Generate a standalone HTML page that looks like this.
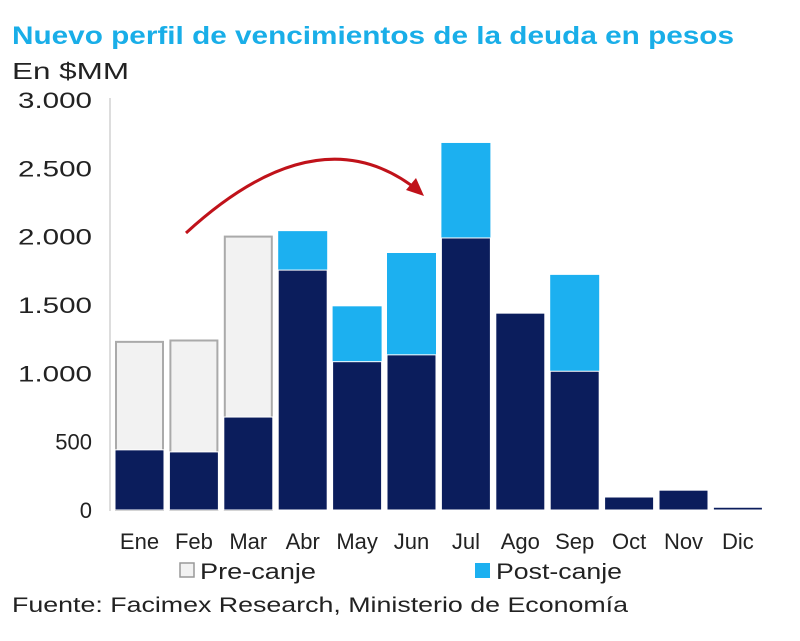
<!DOCTYPE html>
<html><head><meta charset="utf-8"><style>
body{margin:0;background:#fff;width:800px;height:641px;overflow:hidden;font-family:"Liberation Sans",sans-serif}
svg{display:block}
</style></head><body>
<svg id="c" width="800" height="641">
<text x="12" y="44" font-size="25" font-weight="bold" fill="#19aee8" textLength="722" lengthAdjust="spacingAndGlyphs">Nuevo perfil de vencimientos de la deuda en pesos</text>
<text x="12" y="79" font-size="23" fill="#222" textLength="117" lengthAdjust="spacingAndGlyphs">En $MM</text>
<g id="bars"></g>
<path d="M186,233 Q320,110 420,192" fill="none" stroke="#c0121a" stroke-width="3"/>
<polygon points="424,196 406,190 416,178" fill="#c0121a"/>
<rect x="180" y="563" width="14" height="14" fill="#f2f2f2" stroke="#999" stroke-width="1.5"/>
<text x="200" y="579" font-size="22" fill="#222" textLength="116" lengthAdjust="spacingAndGlyphs">Pre-canje</text>
<rect x="475" y="563" width="15" height="15" fill="#1cb0f0"/>
<text x="496" y="579" font-size="22" fill="#222" textLength="126" lengthAdjust="spacingAndGlyphs">Post-canje</text>
<text x="12" y="612" font-size="21" fill="#222" textLength="616" lengthAdjust="spacingAndGlyphs">Fuente: Facimex Research, Ministerio de Economía</text>
</svg>
<script>
const months=["Ene","Feb","Mar","Abr","May","Jun","Jul","Ago","Sep","Oct","Nov","Dic"];
const base=[440,425,680,1755,1085,1135,1990,1440,1015,95,145,20];
const preCanje=[1230,1240,2000,0,0,0,0,0,0,0,0,0];
const postCanje=[0,0,0,2040,1490,1880,2685,0,1720,0,0,0];
const yTicks=[0,500,1000,1500,2000,2500,3000];
const yTickLabels=["0","500","1.000","1.500","2.000","2.500","3.000"];
const NS="http://www.w3.org/2000/svg";
const g=document.getElementById("bars");
const y=v=>510-v*0.1367;
const x0=110,step=54.4,bw=49;
const xb=i=>x0+5+i*step;
function mk(t,a){const e=document.createElementNS(NS,t);for(const k in a)e.setAttribute(k,a[k]);g.appendChild(e);return e;}
yTicks.forEach((t,i)=>{
 const e=mk("text",{x:92,y:y(t)+8,"font-size":22,fill:"#222","text-anchor":"end"});
 e.textContent=yTickLabels[i];
 if(yTickLabels[i].length>3){e.setAttribute("textLength",74);e.setAttribute("lengthAdjust","spacingAndGlyphs");}
 
 
});
const ax=mk("line",{x1:110,y1:98,x2:110,y2:511,stroke:"#bbb","stroke-width":1});


months.forEach((m,i)=>{
 if(preCanje[i]>0){
  const r=mk("rect",{x:xb(i)+1,y:y(preCanje[i]),width:bw-2,height:y(0)-y(preCanje[i]),fill:"#f2f2f2",stroke:"#aaa","stroke-width":2});
  
  
 }
 if(postCanje[i]>0){
  const r=mk("rect",{x:xb(i),y:y(postCanje[i]),width:bw,height:y(0)-y(postCanje[i]),fill:"#1cb0f0"});
  
  
 }
 const r=mk("rect",{x:xb(i),y:y(base[i]),width:bw,height:y(0)-y(base[i]),fill:"#0b1d5c",stroke:"#fff","stroke-width":1});
 
 
 const t=mk("text",{x:xb(i)+bw/2,y:549,"font-size":22,fill:"#222","text-anchor":"middle"});
 t.textContent=m;
 
 
});
</script>
</body></html>
